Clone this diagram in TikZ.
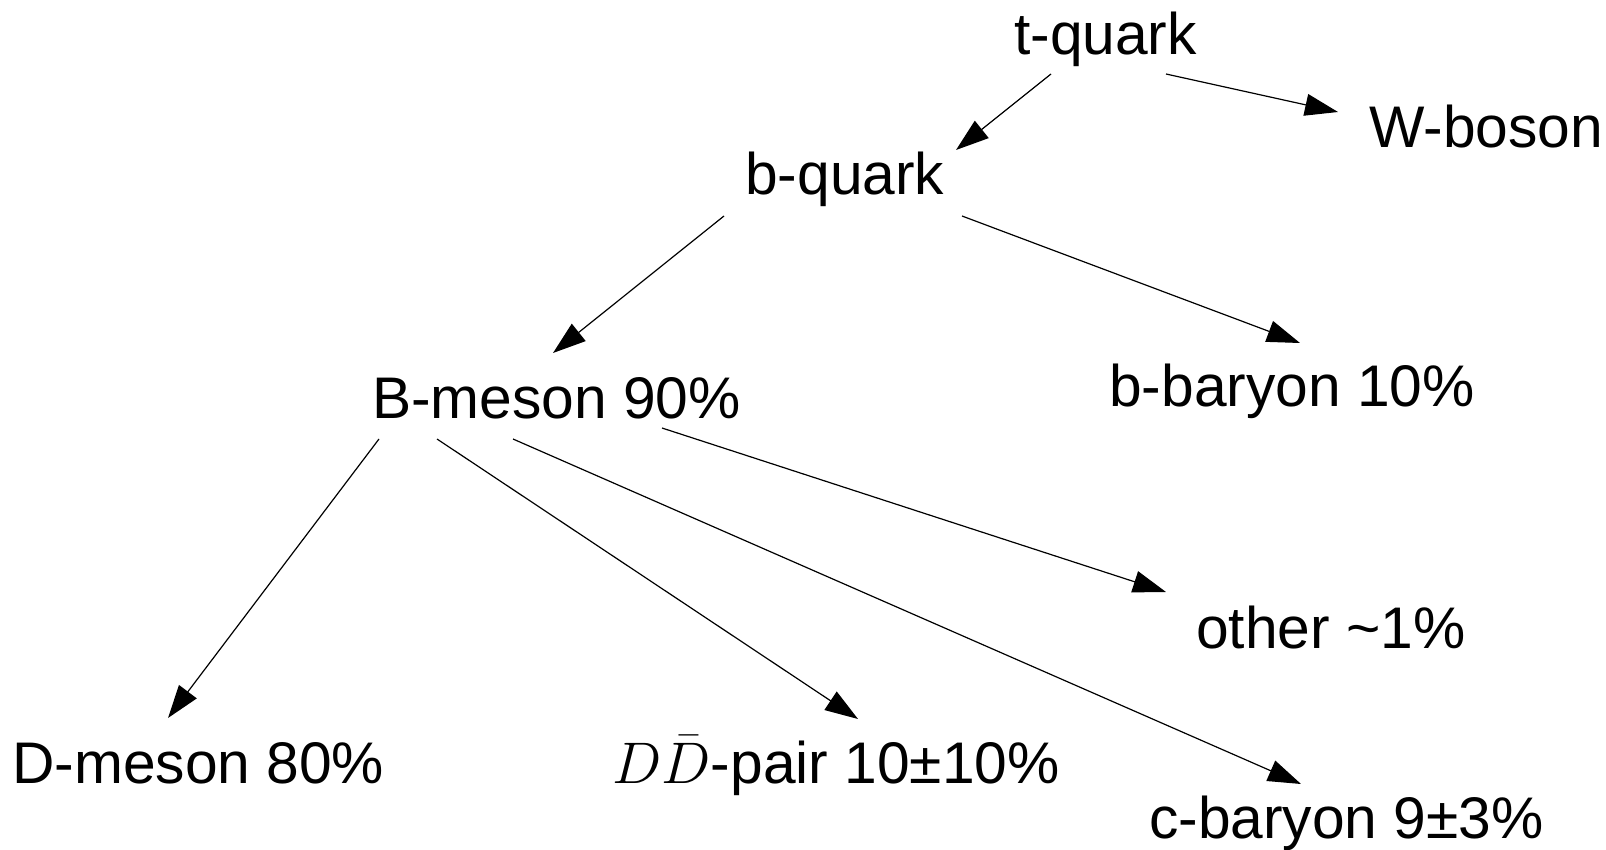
\RequirePackage{fix-cm}
\documentclass[tikz,border=0pt]{standalone}
\usepackage{fontspec}
\setmainfont{Liberation Sans}
\usetikzlibrary{arrows.meta,calc}
\tikzset{
  lbl/.style={anchor=base west,inner sep=0pt,font=\fontsize{58.7}{60}\selectfont},
  arr/.style={draw=black,line width=1.2pt,-{Triangle[length=33pt,width=22pt]}}
}
\begin{document}
\begin{tikzpicture}[x=1pt,y=-1pt]
\useasboundingbox (0,0) rectangle (1606,850);
\node[lbl] (tq) at (1014,55) {t-quark};
\node[lbl] (W) at (1369,148) {W-boson};
\node[lbl] (bq) at (745,195) {b-quark};
\node[lbl] (Bm) at (372,418) {B-meson 90\%};
\node[lbl] (bb) at (1109,406) {b-baryon 10\%};
\node[lbl] (ot) at (1196,648) {other \textasciitilde1\%};
\node[lbl] (Dm) at (12,783) {D-meson 80\%};
\node[lbl] (DD) at (612,783) {$D\bar{D}$-pair 10±10\%};
\node[lbl] (cb) at (1149,838) {c-baryon 9±3\%};
\draw[arr] ($(tq.base west)+(37,19)$) -- ($(bq.base west)+(211,-45)$);
\draw[arr] ($(tq.base west)+(152,19)$) -- ($(W.base west)+(-31,-36)$);
\draw[arr] ($(bq.base west)+(-21,21)$) -- ($(Bm.base west)+(181,-65)$);
\draw[arr] ($(bq.base west)+(217,21)$) -- ($(bb.base west)+(191,-63)$);
\draw[arr] ($(Bm.base west)+(7,21)$) -- ($(Dm.base west)+(156,-65)$);
\draw[arr] ($(Bm.base west)+(65,21)$) -- ($(DD.base west)+(246,-64)$);
\draw[arr] ($(Bm.base west)+(141,21)$) -- ($(cb.base west)+(152,-54)$);
\draw[arr] ($(Bm.base west)+(290,10)$) -- ($(ot.base west)+(-30,-56)$);
\end{tikzpicture}
\end{document}
